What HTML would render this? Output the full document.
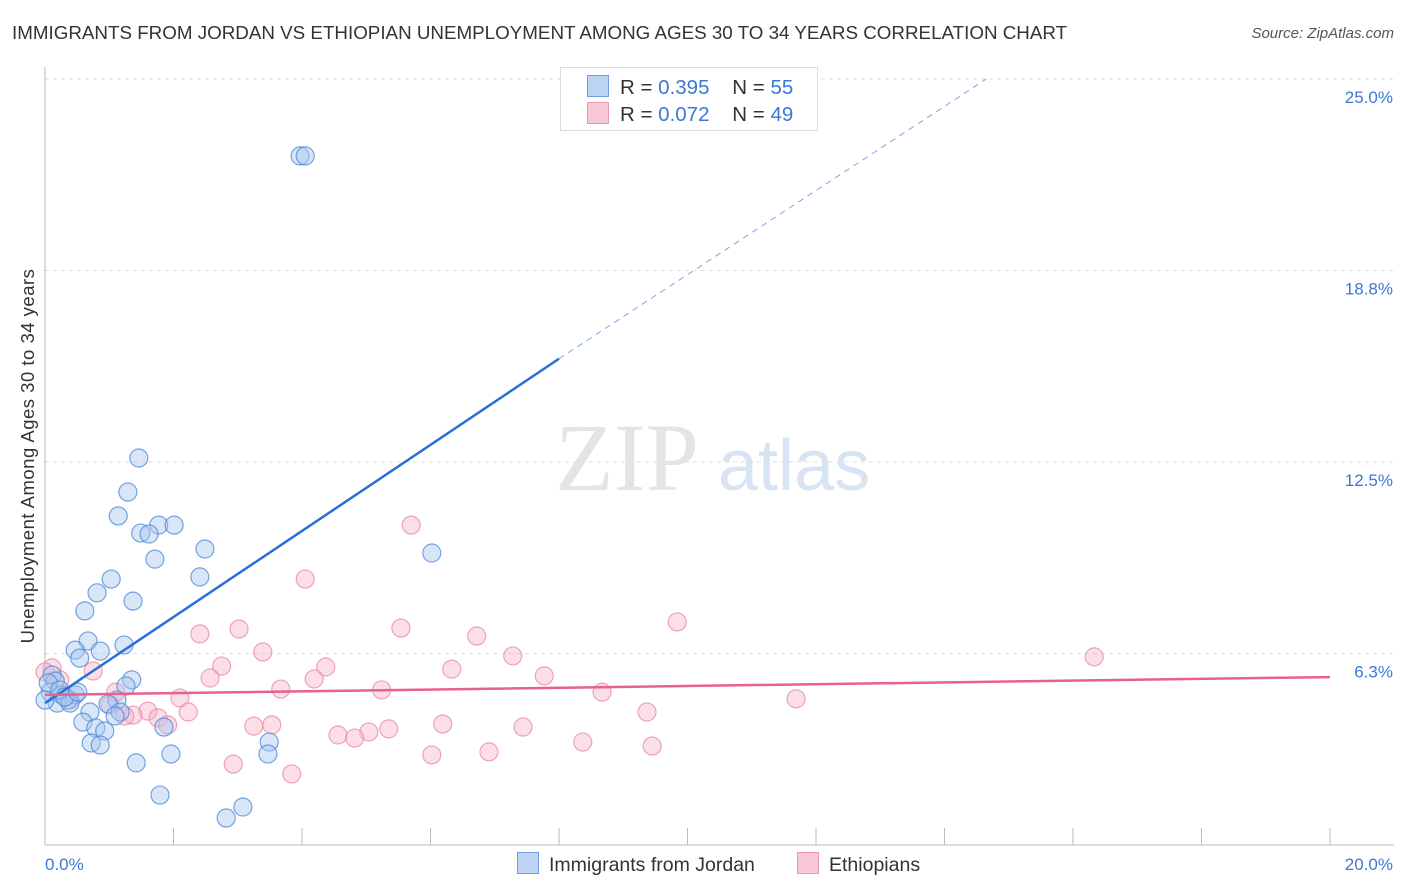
<!DOCTYPE html>
<html><head><meta charset="utf-8"><style>
body{margin:0;background:#fff;font-family:"Liberation Sans",sans-serif;}
#wrap{position:relative;width:1406px;height:892px;overflow:hidden;}
.t{position:absolute;white-space:nowrap;}
</style></head><body>
<div id="wrap">
<div class="t" style="left:12px;top:22px;font-size:18.8px;color:#333;">IMMIGRANTS FROM JORDAN VS ETHIOPIAN UNEMPLOYMENT AMONG AGES 30 TO 34 YEARS CORRELATION CHART</div>
<div class="t" style="right:12px;top:25px;font-size:15px;color:#555;font-style:italic;">Source: ZipAtlas.com</div>
<div class="t" style="left:28px;top:456px;font-size:18.5px;letter-spacing:0.5px;color:#333;transform:translate(-50%,-50%) rotate(-90deg);">Unemployment Among Ages 30 to 34 years</div>
<svg id="svg" width="1406" height="892" style="position:absolute;left:0;top:0"></svg>
</div>
<script>
const xTicks=[0,20];
const yTicks=[6.25,12.5,18.75,25];
const yTickLabels=["6.3%","12.5%","18.8%","25.0%"];
const xTickLabels=["0.0%","20.0%"];
const blueX=[3.97,4.05,1.46,1.29,1.14,1.77,2.01,1.49,1.62,2.49,1.71,6.02,1.03,2.41,0.81,1.37,0.62,0.67,1.23,0.47,0.86,0.54,1.35,1.26,0.11,0.16,0.08,0.26,0.47,0.36,0.19,0.39,1.12,0.98,1.17,0.70,1.09,0.59,0.79,0.93,1.85,0.72,0.86,3.49,3.47,1.96,1.42,1.79,3.08,2.82,0.05,0.23,0.31,0.51,0.0];
const blueY=[22.49,22.49,12.63,11.52,10.74,10.44,10.44,10.18,10.15,9.66,9.33,9.53,8.68,8.75,8.23,7.96,7.64,6.66,6.53,6.36,6.33,6.10,5.39,5.19,5.55,5.35,4.99,4.90,4.90,4.73,4.63,4.63,4.73,4.60,4.34,4.34,4.21,4.01,3.82,3.72,3.85,3.33,3.26,3.36,2.97,2.97,2.68,1.63,1.24,0.88,5.29,5.06,4.83,4.99,4.73];
const pinkX=[5.70,4.05,9.84,6.72,5.54,3.02,2.41,3.39,7.28,16.33,0.75,2.75,4.37,6.33,7.77,2.57,4.19,0.11,3.67,5.24,8.67,1.10,2.10,11.69,0.39,1.60,2.23,1.37,1.76,1.24,9.37,1.91,6.19,3.53,3.25,5.35,7.44,5.04,4.56,8.37,9.45,6.91,6.02,4.82,2.93,3.84,0.23,1.01,0];
const pinkY=[10.44,8.68,7.28,6.82,7.08,7.05,6.89,6.30,6.17,6.14,5.68,5.84,5.81,5.74,5.52,5.45,5.42,5.78,5.09,5.06,4.99,4.99,4.80,4.77,4.73,4.37,4.34,4.24,4.15,4.21,4.34,3.92,3.95,3.92,3.88,3.79,3.85,3.69,3.59,3.36,3.23,3.04,2.94,3.49,2.64,2.32,5.39,4.57,5.65];
const blueTrend=[4.63,1.405];
const pinkTrend=[4.90,0.029];
const X0=45,X1=1330,Y0=845,YT=79;
const sx=v=>X0+(v/20)*(X1-X0);
const sy=v=>Y0-(v/25)*(Y0-YT);
const svg=document.getElementById('svg');
const NS='http://www.w3.org/2000/svg';
function mk(tag,attrs,parent){const e=document.createElementNS(NS,tag);for(const k in attrs)e.setAttribute(k,attrs[k]);(parent||svg).appendChild(e);return e;}
yTicks.forEach((v,i)=>{
 const g=mk('line',{x1:X0,x2:1394,y1:sy(v),y2:sy(v),stroke:'#ddd','stroke-dasharray':'4,4'});
 
 
 const t=mk('text',{x:1393,y:sy(v)+24,'text-anchor':'end','font-size':17,fill:'#3b78d8','font-family':'Liberation Sans,sans-serif'});
 t.textContent=yTickLabels[i];
 
 
});
let a=mk('line',{x1:X0,x2:X0,y1:67,y2:Y0,stroke:'#bbb'});


a=mk('line',{x1:X0,x2:1394,y1:Y0,y2:Y0,stroke:'#bbb'});


for(let i=1;i<=10;i++){const tk=mk('line',{x1:sx(i*2),x2:sx(i*2),y1:828,y2:Y0,stroke:'#bbb'});
 
 }
xTicks.forEach((v,i)=>{const t=mk('text',{x:i?1393:45,y:870,'text-anchor':i?'end':'start','font-size':17,fill:'#3b78d8','font-family':'Liberation Sans,sans-serif'});
 t.textContent=xTickLabels[i];
 
 });
let w=mk('text',{x:555,y:490,'font-size':96,fill:'#e4e4e4','font-family':'Liberation Serif,serif'});w.textContent='ZIP';


w=mk('text',{x:718,y:490,'font-size':72,fill:'#d8e4f4','font-family':'Liberation Sans,sans-serif'});w.textContent='atlas';


function pts(xs,ys,fill,stroke,name){xs.forEach((x,i)=>{const c=mk('circle',{cx:sx(x),cy:sy(ys[i]),r:9,fill:fill,'fill-opacity':0.45,stroke:stroke,'stroke-opacity':0.75,'stroke-width':1.2});
 
 });}
pts(pinkX,pinkY,'#f7b6c8','#e888a6','ethiopians-point');
pts(blueX,blueY,'#a9c8f0','#4a86d8','jordan-point');
const bEnd=8.0;
let l=mk('line',{x1:sx(0),y1:sy(blueTrend[0]),x2:sx(bEnd),y2:sy(blueTrend[0]+blueTrend[1]*bEnd),stroke:'#2a6fd6','stroke-width':2.5});


const xe=14.65;
l=mk('line',{x1:sx(bEnd),y1:sy(blueTrend[0]+blueTrend[1]*bEnd),x2:sx(xe),y2:sy(25),stroke:'#7aa6e4','stroke-width':1,'stroke-dasharray':'6,5'});


l=mk('line',{x1:sx(0),y1:sy(pinkTrend[0]),x2:sx(20),y2:sy(pinkTrend[0]+pinkTrend[1]*20),stroke:'#e8608c','stroke-width':2.5});


</script>
<div class="t" style="left:560px;top:67px;width:256px;height:62px;border:1px solid #ddd;background:#fff;font-size:20.5px;color:#333;">
 <div style="position:absolute;left:26px;top:7px;"><span style="display:inline-block;width:20px;height:20px;background:#bcd5f5;border:1px solid #6e9ee0;vertical-align:-3px;margin-right:11px"></span>R = <span style="color:#3b78d8">0.395</span>&nbsp;&nbsp;&nbsp; N = <span style="color:#3b78d8">55</span></div>
 <div style="position:absolute;left:26px;top:34px;"><span style="display:inline-block;width:20px;height:20px;background:#f9c8d6;border:1px solid #e898b0;vertical-align:-3px;margin-right:11px"></span>R = <span style="color:#3b78d8">0.072</span>&nbsp;&nbsp;&nbsp; N = <span style="color:#3b78d8">49</span></div>
</div>
<div class="t" style="left:517px;top:852px;font-size:19.5px;color:#333;"><span style="display:inline-block;width:20px;height:20px;background:#bcd5f5;border:1px solid #6e9ee0;vertical-align:-3px;margin-right:10px"></span>Immigrants from Jordan</div>
<div class="t" style="left:797px;top:852px;font-size:19.5px;color:#333;"><span style="display:inline-block;width:20px;height:20px;background:#f9c8d6;border:1px solid #e898b0;vertical-align:-3px;margin-right:10px"></span>Ethiopians</div>
</body></html>
